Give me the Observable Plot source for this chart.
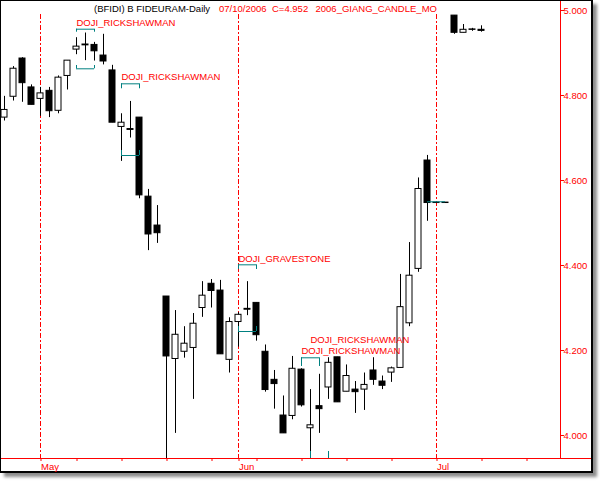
<!DOCTYPE html>
<html><head><meta charset="utf-8">
<script src="https://cdn.jsdelivr.net/npm/d3@7"></script>
<script src="https://cdn.jsdelivr.net/npm/@observablehq/plot@0.6"></script>
<style>
html,body{margin:0;padding:0;background:#fff;}
#frame{position:absolute;left:0;top:0;width:590px;height:470px;border-left:1px solid #000;border-top:1px solid #000;border-right:2px solid #000;border-bottom:2px solid #000;box-shadow:4px 4px 3px rgba(0,0,0,0.45);background:#fff;}
#chart{position:absolute;left:0;top:0;}
.t{position:absolute;top:3px;font-family:"Liberation Sans",Arial,sans-serif;font-size:9.5px;line-height:9.5px;white-space:nowrap;}
</style></head><body>
<div id="frame"><div id="chart"></div>
<div class="t" style="left:93px;color:#000">(BFIDI) B FIDEURAM-Daily</div>
<div class="t" style="left:218px;color:#f00">07/10/2006</div>
<div class="t" style="left:271px;color:#f00">C=4.952</div>
<div class="t" style="left:314.5px;color:#f00">2006_GIANG_CANDLE_MO</div>
</div>
<script>
// Daily candles (trading-day order, late April .. July 2006)
const open  = [4.748,4.797,4.887,4.819,4.792,4.811,4.764,4.846,4.908,4.920,4.919,4.894,4.859,4.726,4.721,4.748,4.562,4.494,4.327,4.180,4.197,4.206,4.300,4.357,4.341,4.178,4.267,4.298,4.312,4.197,4.131,4.047,4.046,4.155,4.017,4.069,4.113,4.184,4.103,4.108,4.108,4.153,4.127,4.148,4.159,4.264,4.392,4.647,4.548,4.548,4.988,4.9475,4.9555,4.9546];
const high  = [4.798,4.868,4.889,4.825,4.819,4.819,4.846,4.882,4.936,4.947,4.925,4.944,4.871,4.757,4.786,4.748,4.579,4.541,4.327,4.294,4.256,4.287,4.362,4.367,4.365,4.277,4.289,4.362,4.312,4.213,4.153,4.093,4.186,4.157,4.108,4.144,4.183,4.184,4.166,4.127,4.147,4.183,4.140,4.161,4.379,4.454,4.606,4.659,4.548,4.548,4.988,4.967,4.958,4.964];
const low   = [4.740,4.787,4.784,4.778,4.751,4.748,4.757,4.813,4.896,4.882,4.881,4.872,4.736,4.645,4.700,4.557,4.435,4.452,3.900,4.005,4.182,4.085,4.278,4.300,4.191,4.147,4.208,4.282,4.222,4.102,4.062,4.005,4.037,4.067,3.962,4.005,4.085,4.078,4.103,4.052,4.059,4.118,4.108,4.125,4.159,4.256,4.384,4.504,4.547,4.547,4.944,4.9475,4.951,4.949];
const close = [4.766,4.863,4.829,4.778,4.805,4.763,4.842,4.882,4.915,4.918,4.904,4.880,4.736,4.736,4.719,4.565,4.473,4.476,4.186,4.237,4.216,4.263,4.329,4.340,4.191,4.267,4.284,4.296,4.236,4.107,4.121,4.005,4.157,4.071,4.024,4.062,4.171,4.078,4.140,4.102,4.119,4.131,4.117,4.158,4.302,4.376,4.580,4.547,4.547,4.547,4.9475,4.9546,4.9545,4.952];

// x-axis ticks (trading-day positions): Mondays and month starts
const weekTicks = [4,8,13,18,23,26,28,33,38,43,48,53,58];
const monthTickIdx = [4,26,48];
const monthNames = ["May","Jun","Jul"];
const priceTicks = [4.0,4.2,4.4,4.6,4.8,5.0];

// pattern brackets (center candle, top / top-end, bottom / bottom-end prices)
const bracketIdx       = [9,      14,     27,     34,     35,     48];
const bracketTop       = [4.9560, 4.8275, 4.4016, 4.1828, null,   4.5499];
const bracketTopEnd    = [4.9489, 4.8158, 4.3906, 4.1624, null,   4.5499];
const bracketBottom    = [4.8628, 4.6588, 4.2447, null,   3.9435, null];
const bracketBottomEnd = [4.8706, 4.6706, 4.2565, null,   3.9624, null];

// pattern labels
const labelIdx  = [8, 13, 26, 33, 34];
const labelY    = [4.9647, 4.8353, 4.4078, 4.1929, 4.2188];
const labelText = ["DOJI_RICKSHAWMAN","DOJI_RICKSHAWMAN","DOJI_GRAVESTONE","DOJI_RICKSHAWMAN","DOJI_RICKSHAWMAN"];

const candles = open.map((o, i) => ({i, o, h: high[i], l: low[i], c: close[i], up: close[i] > o}));
const brackets = bracketIdx.map((i, k) => ({i, t: bracketTop[k], te: bracketTopEnd[k], b: bracketBottom[k], be: bracketBottomEnd[k]}));
const tops = brackets.filter(d => d.t != null);
const bots = brackets.filter(d => d.b != null);
const labels = labelIdx.map((i, k) => ({i, v: labelY[k], t: labelText[k]}));

const W = 590, H = 470, MR = 31, MB = 13;
const pxPerDay = 9, firstPx = 3;
const xDomain = [-firstPx / pxPerDay, (W - MR - firstPx) / pxPerDay];
const pxPerUnit = 425, topPx = 9;
const yTop = 5 + topPx / pxPerUnit;
const yBottom = yTop - (H - MB) / pxPerUnit;
const teal = "#008080";

const chart = Plot.plot({
  width: W, height: H,
  marginLeft: 0, marginRight: MR, marginTop: 0, marginBottom: MB,
  x: {type: "linear", domain: xDomain},
  y: {domain: [yBottom, yTop]},
  style: {fontFamily: "'Liberation Sans', Arial, sans-serif", fontSize: "9.5px", background: "white", overflow: "visible"},
  marks: [
    Plot.ruleX(monthTickIdx, {x: d => d, stroke: "red", strokeDasharray: "5,2,2,2", insetTop: 13}),
    Plot.ruleX(candles, {x: "i", y1: "l", y2: "h", stroke: "black", clip: true}),
    Plot.rect(candles.filter(d => d.up), {x1: d => d.i - 1/3, x2: d => d.i + 1/3, y1: "o", y2: "c", fill: "white", stroke: "black"}),
    Plot.rect(candles.filter(d => !d.up), {x1: d => d.i - 1/3, x2: d => d.i + 1/3, y1: "o", y2: "c", fill: "black", stroke: "black"}),
    Plot.ruleY(tops, {y: "t", x1: d => d.i - 1, x2: d => d.i + 1, stroke: teal}),
    Plot.ruleX(tops.flatMap(d => [{x: d.i - 1, y1: d.t, y2: d.te}, {x: d.i + 1, y1: d.t, y2: d.te}]), {x: "x", y1: "y1", y2: "y2", stroke: teal}),
    Plot.ruleY(bots, {y: "b", x1: d => d.i - 1, x2: d => d.i + 1, stroke: teal, clip: true}),
    Plot.ruleX(bots.flatMap(d => [{x: d.i - 1, y1: d.b, y2: d.be}, {x: d.i + 1, y1: d.b, y2: d.be}]), {x: "x", y1: "y1", y2: "y2", stroke: teal, clip: true}),
    Plot.text(labels, {x: "i", y: "v", text: "t", textAnchor: "start", lineAnchor: "bottom", fill: "red"}),
    Plot.ruleX([xDomain[1]], {stroke: "red"}),
    Plot.ruleY([yBottom], {stroke: "red", insetRight: -MR}),
    Plot.axisX({ticks: weekTicks, tickFormat: d => { const k = monthTickIdx.indexOf(d); return k >= 0 ? monthNames[k] : ""; }, tickSize: 3, tickPadding: 1.5, textAnchor: "start", dx: 0.5, color: "red", label: null}),
    Plot.axisY({anchor: "right", ticks: priceTicks, tickFormat: d3.format(".3f"), tickSize: 3, tickPadding: 0, color: "red", label: null})
  ]
});
document.getElementById("chart").appendChild(chart);
</script>
</body></html>
